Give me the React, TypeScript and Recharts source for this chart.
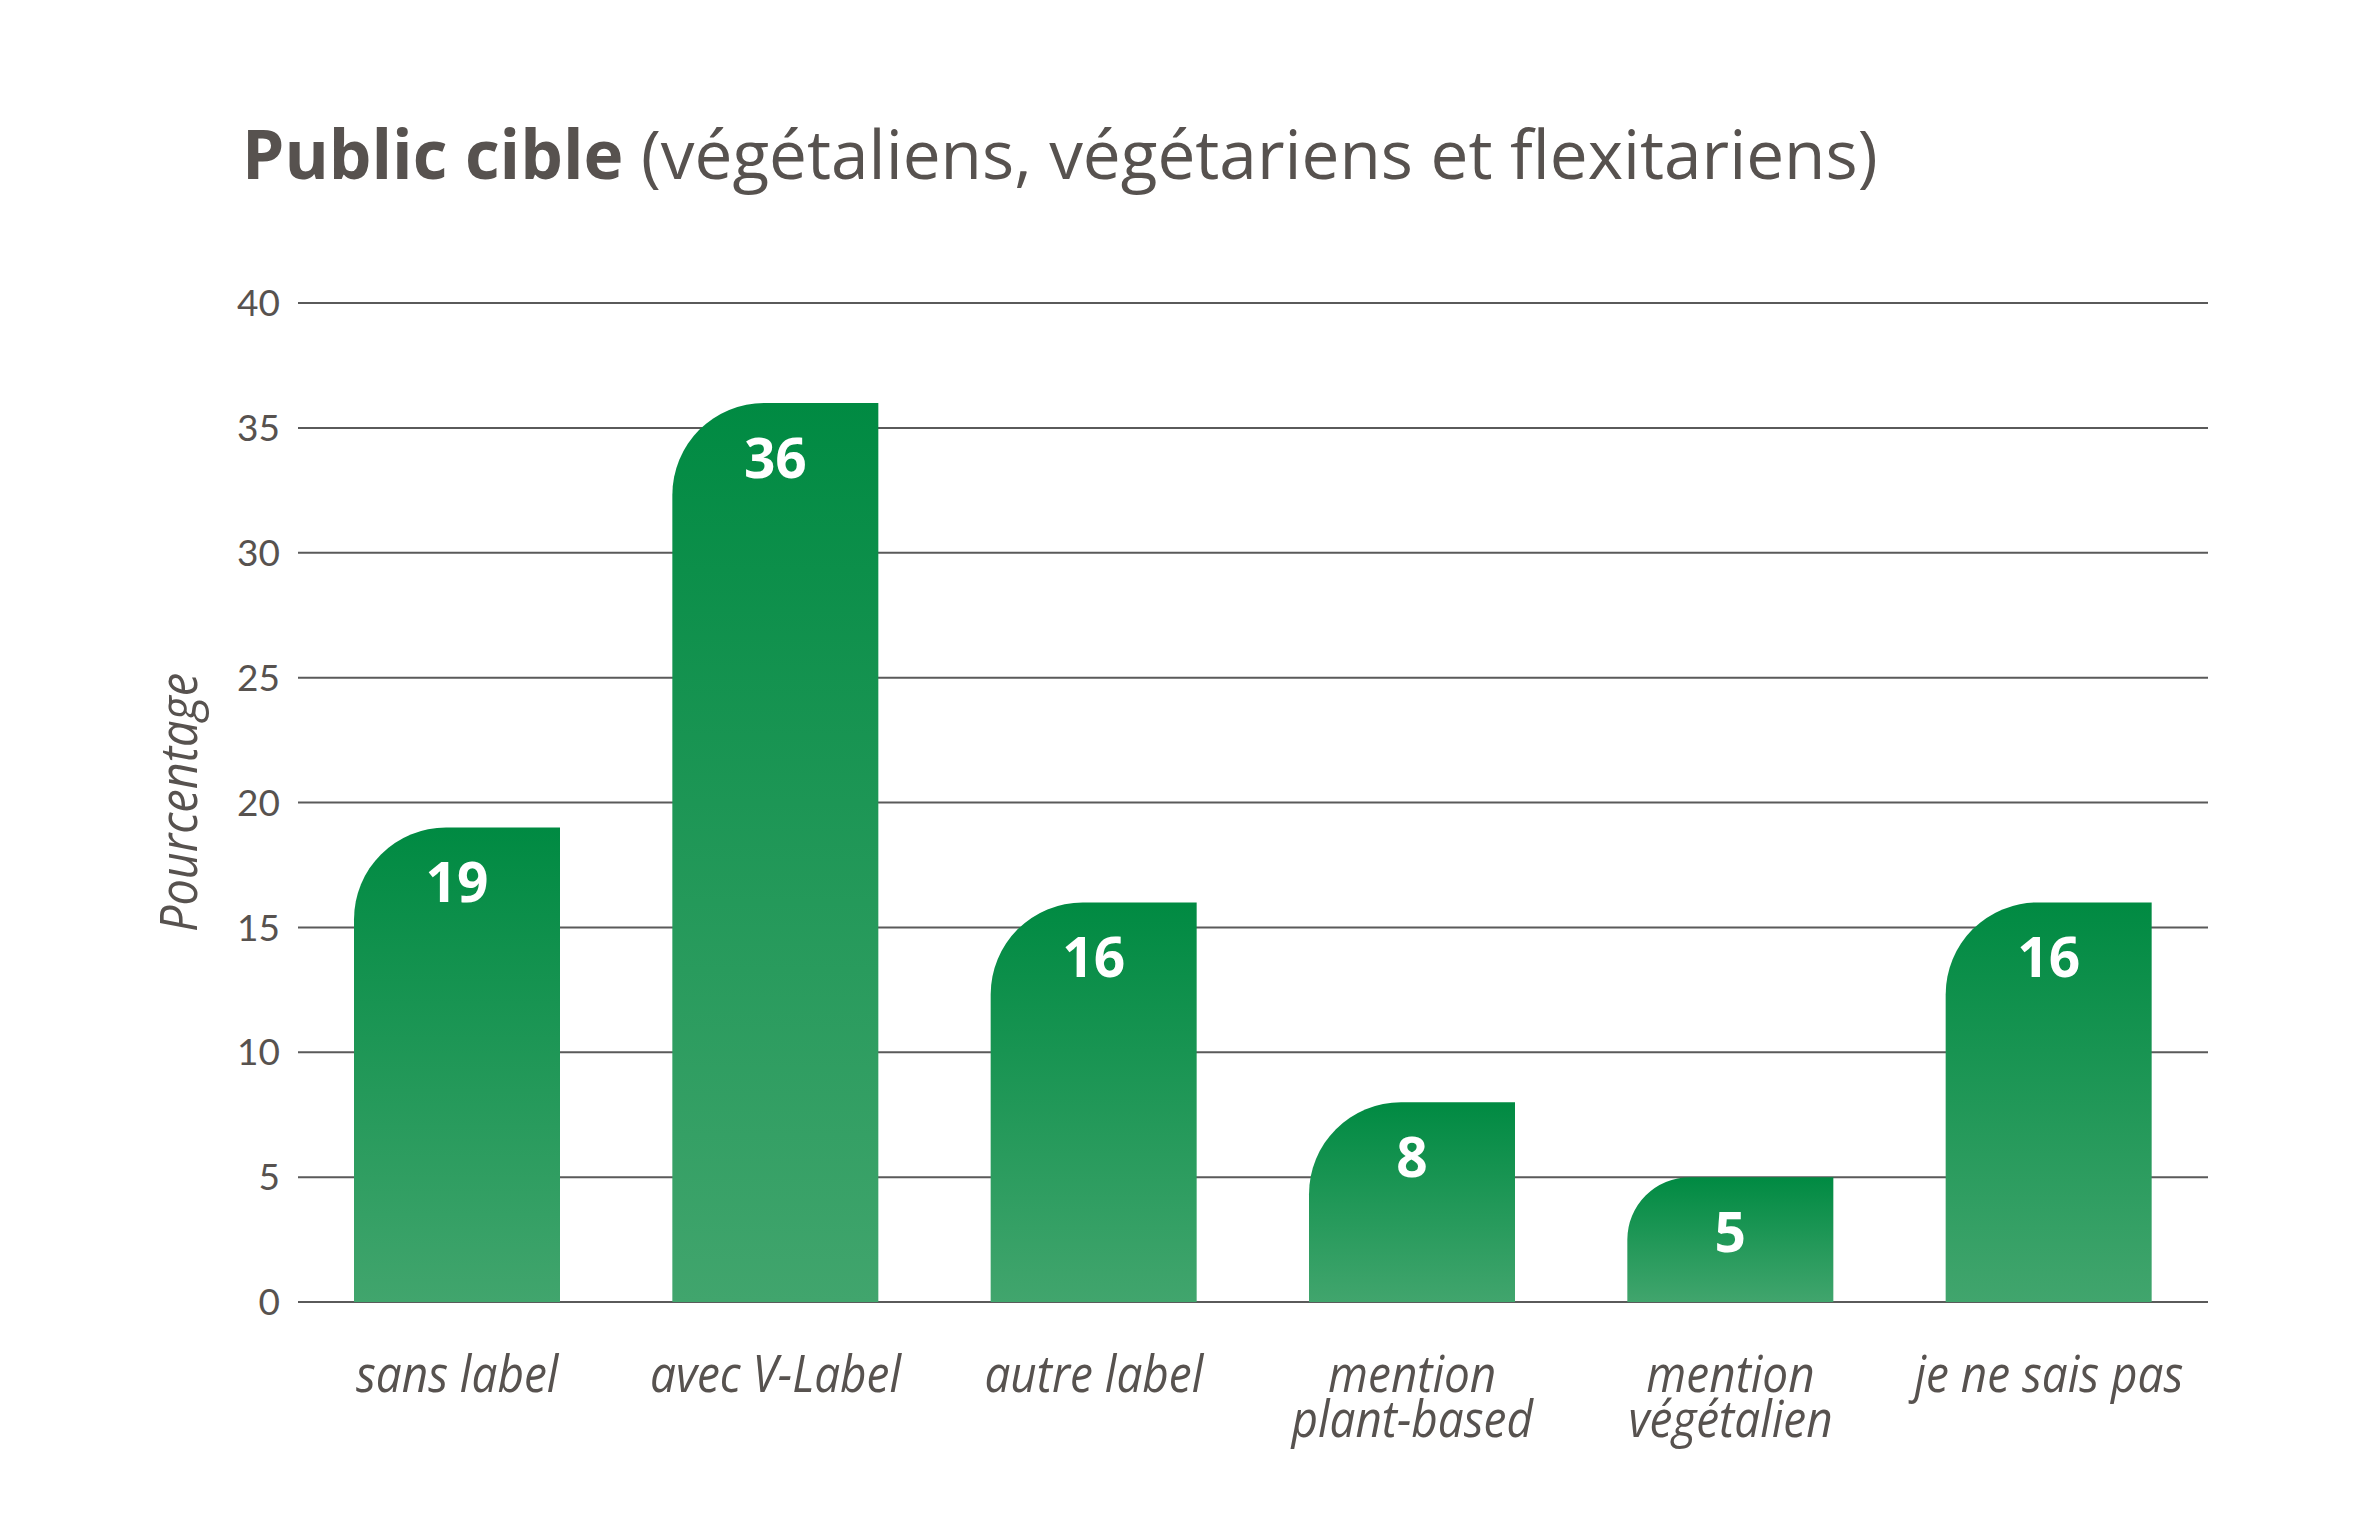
import React from 'react';
import { BarChart, Bar, XAxis, YAxis, CartesianGrid, LabelList } from 'recharts';

// Category names (line breaks split the longer labels)
const categories = [
  'sans label',
  'avec V-Label',
  'autre label',
  'mention\nplant-based',
  'mention\nvégétalien',
  'je ne sais pas',
];

// Share of the target public, in percent
const percentages = [19, 36, 16, 8, 5, 16];

const yTicks = [0, 5, 10, 15, 20, 25, 30, 35, 40];

const data = categories.map((name, i) => ({ name, value: percentages[i] }));

const TEXT = '#57524f';
const GRID = '#5a5a5a';

const CategoryTick = (props: any) => {
  const { x, y, payload } = props;
  const lines: string[] = String(payload.value).split('\n');
  return (
    <g transform={`translate(${x},${y + 82}) scale(0.9,1)`}>
      {lines.map((line, i) => (
        <text
          key={i}
          x={0}
          y={i * 45}
          textAnchor="middle"
          fill={TEXT}
          fontFamily="'Open Sans', sans-serif"
          fontStyle="italic"
          fontSize={51}
        >
          {line}
        </text>
      ))}
    </g>
  );
};

const ValueLabel = (props: any) => {
  const { x, y, width, value } = props;
  return (
    <text
      x={x + width / 2}
      y={y + 75}
      textAnchor="middle"
      fill="#ffffff"
      fontFamily="'Open Sans', sans-serif"
      fontWeight={700}
      fontSize={55}
    >
      {value}
    </text>
  );
};

const AxisTitle = (props: any) => {
  const { viewBox } = props;
  const cx = viewBox.x + 181;
  const cy = viewBox.y + viewBox.height / 2;
  return (
    <g transform={`translate(${cx},${cy}) rotate(-90) scale(0.9,1)`}>
      <text
        x={0}
        y={16}
        textAnchor="middle"
        fill={TEXT}
        fontFamily="'Open Sans', sans-serif"
        fontStyle="italic"
        fontSize={52}
      >
        Pourcentage
      </text>
    </g>
  );
};

export default function App() {
  return (
    <div style={{ position: 'absolute', left: 0, top: 0, width: 2363, height: 1536, background: '#fff' }}>
      <div
        style={{
          position: 'absolute',
          left: 242,
          top: 108,
          fontFamily: "'Open Sans', sans-serif",
          fontSize: 67.5,
          lineHeight: '90px',
          color: TEXT,
          whiteSpace: 'nowrap',
        }}
      >
        <span style={{ fontWeight: 700 }}>Public cible</span> (végétaliens, végétariens et flexitariens)
      </div>
      <div style={{ position: 'absolute', left: 0, top: 0 }}>
        <BarChart
          width={2363}
          height={1536}
          data={data}
          margin={{ top: 303, right: 155, bottom: 84, left: 0 }}
          barSize={206}
        >
          <defs>
            <linearGradient id="barFill" x1="0" y1="0" x2="0" y2="1">
              <stop offset="0%" stopColor="#008a42" />
              <stop offset="100%" stopColor="#41a56d" />
            </linearGradient>
          </defs>
          <CartesianGrid vertical={false} stroke={GRID} strokeWidth={2} />
          <XAxis
            dataKey="name"
            height={150}
            axisLine={false}
            tickLine={false}
            interval={0}
            tick={<CategoryTick />}
          />
          <YAxis
            width={298}
            domain={[0, 40]}
            ticks={yTicks}
            axisLine={false}
            tickLine={false}
            tickMargin={12}
            tick={{ fill: TEXT, fontSize: 37, fontFamily: 'Lato, sans-serif', fontWeight: 400 }}
            label={<AxisTitle />}
          />
          <Bar
            dataKey="value"
            fill="url(#barFill)"
            radius={[92, 0, 0, 0]}
            isAnimationActive={false}
          >
            <LabelList dataKey="value" content={<ValueLabel />} />
          </Bar>
        </BarChart>
      </div>
    </div>
  );
}
